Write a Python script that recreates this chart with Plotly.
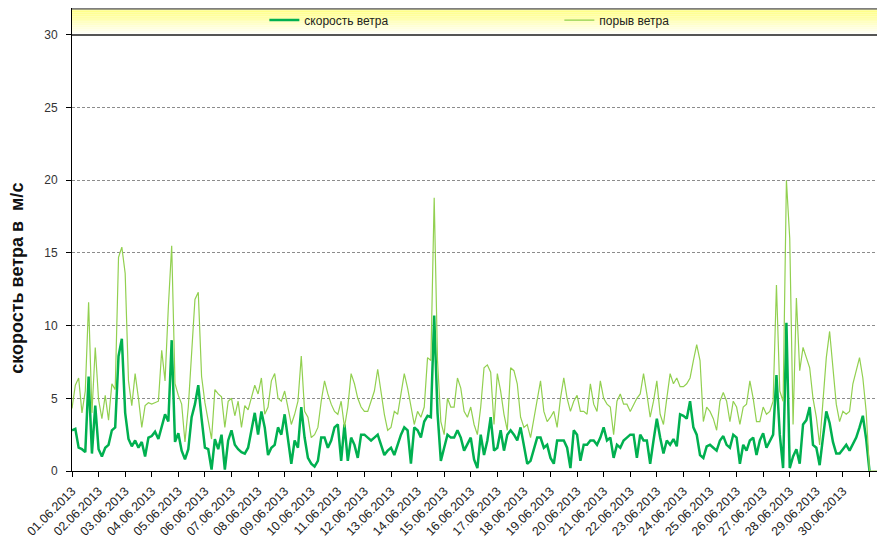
import pandas as pd
import plotly.graph_objects as go

# 3-hourly values, 01.06.2013 00:00 ... 30.06.2013 21:00, then 01.07 00:00
speed = [
    2.8, 2.9, 1.6, 1.5, 1.3, 6.5, 1.2, 4.5,
    1.5, 1.0, 1.6, 1.8, 2.8, 3.0, 7.9, 9.1,
    4.0, 2.2, 1.7, 2.1, 1.6, 2.0, 1.0, 2.3,
    2.4, 2.7, 2.2, 3.0, 3.9, 3.4, 9.0, 2.0,
    2.6, 1.4, 0.8, 1.5, 3.7, 4.6, 5.9, 3.6,
    1.6, 1.5, 0.1, 2.2, 1.5, 2.5, 0.1, 2.1,
    2.8, 1.8, 1.5, 1.3, 1.2, 1.6, 2.7, 4.0,
    2.5, 4.1, 3.0, 1.1, 1.6, 1.8, 3.0, 2.5,
    3.9, 2.1, 0.5, 2.1, 1.6, 4.4, 2.3, 0.9,
    0.5, 0.3, 0.7, 2.3, 2.3, 1.6, 2.1, 3.0,
    3.2, 0.7, 3.2, 0.7, 2.3, 1.8, 0.9, 2.5,
    2.5, 2.3, 2.1, 2.3, 2.5, 1.8, 1.1, 1.4,
    1.6, 1.1, 1.8, 2.5, 3.0, 2.8, 0.5, 3.0,
    2.8, 2.3, 3.4, 3.8, 3.7, 10.7, 4.0, 0.7,
    1.6, 2.5, 2.3, 2.3, 2.8, 2.3, 1.4, 1.8,
    2.3, 0.8, 0.2, 2.5, 1.1, 2.1, 3.7, 1.4,
    1.6, 2.8, 1.4, 2.5, 2.8, 2.5, 2.1, 3.0,
    1.8, 0.5, 0.7, 1.6, 2.3, 2.3, 1.6, 1.8,
    0.9, 0.5, 2.1, 2.1, 2.1, 1.6, 0.2, 2.8,
    2.5, 0.7, 1.8, 1.8, 2.1, 2.1, 1.8, 2.3,
    3.0, 2.1, 2.3, 0.9, 1.8, 1.6, 2.1, 2.3,
    2.5, 2.5, 0.9, 2.5, 2.1, 2.1, 0.5, 2.1,
    3.6, 2.3, 1.2, 2.1, 1.8, 2.2, 1.7, 3.9,
    3.8, 3.6, 4.8, 3.0, 2.5, 1.1, 0.9, 1.7,
    1.8, 1.6, 1.4, 2.1, 2.4, 1.8, 1.6, 2.5,
    2.3, 0.5, 1.8, 1.4, 2.1, 2.3, 1.1, 2.1,
    2.6, 1.6, 2.1, 2.5, 6.6, 2.5, 0.2, 10.2,
    0.2, 1.0, 1.5, 0.5, 3.2, 3.5, 4.4, 1.8,
    1.6, 0.4, 2.3, 4.1, 3.3, 2.0, 1.2, 1.2,
    1.5, 1.8, 1.4, 1.8, 2.3, 3.0, 3.8, 2.2,
    0.0,
]

gust = [
    4.3, 5.9, 6.4, 4.0, 5.5, 11.6, 4.0, 8.5,
    4.9, 3.6, 5.2, 3.5, 6.0, 5.6, 14.7, 15.4,
    13.6, 6.2, 4.5, 6.7, 5.0, 3.0, 4.5, 4.7,
    4.6, 4.7, 4.8, 8.3, 6.2, 11.3, 15.5, 6.0,
    5.2, 4.6, 2.0, 4.4, 7.8, 11.8, 12.3, 6.5,
    4.7, 3.5, 2.2, 5.6, 5.3, 5.1, 3.0, 4.8,
    5.0, 3.8, 4.8, 3.0, 4.5, 4.2, 5.0, 5.9,
    5.3, 6.4, 3.9, 4.4, 6.2, 6.7, 5.0, 4.8,
    5.5, 4.4, 3.2, 3.9, 4.8, 7.9, 4.1, 3.7,
    2.3, 2.5, 3.0, 4.8, 6.2, 5.3, 4.6, 4.1,
    3.9, 4.8, 3.0, 4.4, 6.7, 6.0, 5.0, 4.4,
    4.1, 4.1, 4.8, 5.5, 7.0, 5.5, 3.9, 2.8,
    3.0, 4.1, 3.9, 5.3, 6.7, 5.7, 4.4, 3.2,
    4.1, 3.7, 4.4, 7.8, 7.6, 18.8, 7.6, 3.4,
    2.5, 5.0, 4.4, 4.4, 6.4, 5.7, 4.1, 3.7,
    4.4, 3.2, 2.5, 4.4, 7.1, 7.3, 6.8, 3.2,
    6.7, 5.5, 3.9, 2.8, 7.1, 6.9, 6.0, 3.7,
    3.0, 3.2, 2.3, 3.7, 5.0, 6.2, 4.1, 3.4,
    3.7, 4.1, 3.0, 5.0, 6.4, 5.0, 4.1, 4.8,
    5.2, 4.1, 4.1, 3.9, 6.0, 4.6, 4.1, 6.2,
    5.0, 4.6, 4.4, 2.5, 4.8, 5.3, 4.6, 4.6,
    4.1, 4.6, 5.0, 5.3, 6.7, 5.3, 3.7, 4.8,
    6.2, 3.9, 3.2, 5.0, 6.7, 6.0, 6.4, 5.8,
    5.8, 6.0, 6.4, 7.6, 8.7, 7.6, 3.4, 4.4,
    4.1, 3.6, 2.8, 4.8, 5.4, 4.8, 3.4, 4.8,
    4.4, 3.2, 4.4, 4.6, 6.2, 5.0, 3.4, 3.4,
    4.4, 3.9, 4.1, 4.8, 12.8, 5.5, 4.8, 20.0,
    16.0, 3.2, 11.9, 6.9, 8.5, 7.8, 7.1, 5.0,
    3.7, 1.8, 4.6, 7.8, 9.6, 7.3, 4.6, 3.4,
    4.1, 3.9, 4.1, 6.0, 6.9, 7.8, 6.4, 4.1,
    0.0, 0.0,
]

times = list(pd.date_range('2013-06-01', periods=len(speed), freq='3h'))
gust_times = times + [pd.Timestamp('2013-07-01 14:00')]

tick_dates = list(pd.date_range('2013-06-01', '2013-07-01', freq='D'))
tick_labels = [d.strftime('%d.%m.%Y') for d in tick_dates[:-1]] + ['']

fig = go.Figure()
fig.add_trace(go.Scatter(
    x=times, y=speed, mode='lines', name='скорость ветра',
    line=dict(color='#00B050', width=2.5)
))
fig.add_trace(go.Scatter(
    x=gust_times, y=gust, mode='lines', name='порыв ветра',
    line=dict(color='#92D050', width=1.2)
))

# yellow legend band above the 30 line (vertical gradient)
n = 14
y0, y1 = 30.0, 31.8
for i in range(n):
    t = (i + 0.5) / n
    b = int(255 - 130 * t)
    fig.add_shape(type='rect', xref='paper', yref='y', x0=0, x1=1,
                  y0=y0 + (y1 - y0) * i / n, y1=y0 + (y1 - y0) * (i + 1) / n,
                  fillcolor=f'rgb(255,255,{b})', line_width=0, layer='below')
fig.add_shape(type='line', xref='paper', yref='y', x0=0, x1=1, y0=y1, y1=y1,
              line=dict(color='#7f7f7f', width=2))
fig.add_shape(type='line', xref='paper', yref='y', x0=0, x1=1, y0=30, y1=30,
              line=dict(color='#555555', width=2))

fig.add_annotation(text='<b>скорость ветра в  м/с</b>', textangle=-90,
                   xref='paper', yref='paper', x=0, y=0.415, xshift=-55,
                   xanchor='center', yanchor='middle', showarrow=False,
                   font=dict(family='Liberation Sans, Arial', size=18, color='#111'))

# the page body adds an 8px offset, so the figure is 8px smaller than the window
fig.update_layout(
    width=877, height=533,
    margin=dict(l=64, r=0, t=0, b=70, autoexpand=False),
    plot_bgcolor='white', paper_bgcolor='white',
    font=dict(family='Liberation Sans, Arial', color='#222'),
    showlegend=True,
    legend=dict(orientation='h', x=0.2366, y=0.974, xanchor='left', yanchor='middle',
                bgcolor='rgba(0,0,0,0)', font=dict(size=12, color='#222'),
                entrywidth=250, entrywidthmode='pixels'),
)
fig.update_xaxes(
    range=[pd.Timestamp('2013-06-01'), pd.Timestamp('2013-07-01 14:00')],
    tickvals=tick_dates, ticktext=tick_labels, tickangle=-45,
    tickfont=dict(size=12.5, color='#222'), ticklabelstandoff=2,
    showgrid=False, showline=True, linecolor='black', linewidth=1,
    ticks='outside', ticklen=5, tickcolor='black', zeroline=False,
)
fig.update_yaxes(
    range=[0, 31.85], tickvals=[0, 5, 10, 15, 20, 25, 30],
    tickfont=dict(size=12, color='#333'), ticklabelstandoff=6,
    showgrid=True, gridcolor='#8c8c8c', griddash='3px,2px', gridwidth=1,
    showline=True, linecolor='black', linewidth=1,
    ticks='outside', ticklen=5, tickcolor='black', zeroline=False,
)

fig.write_html('out.html')
